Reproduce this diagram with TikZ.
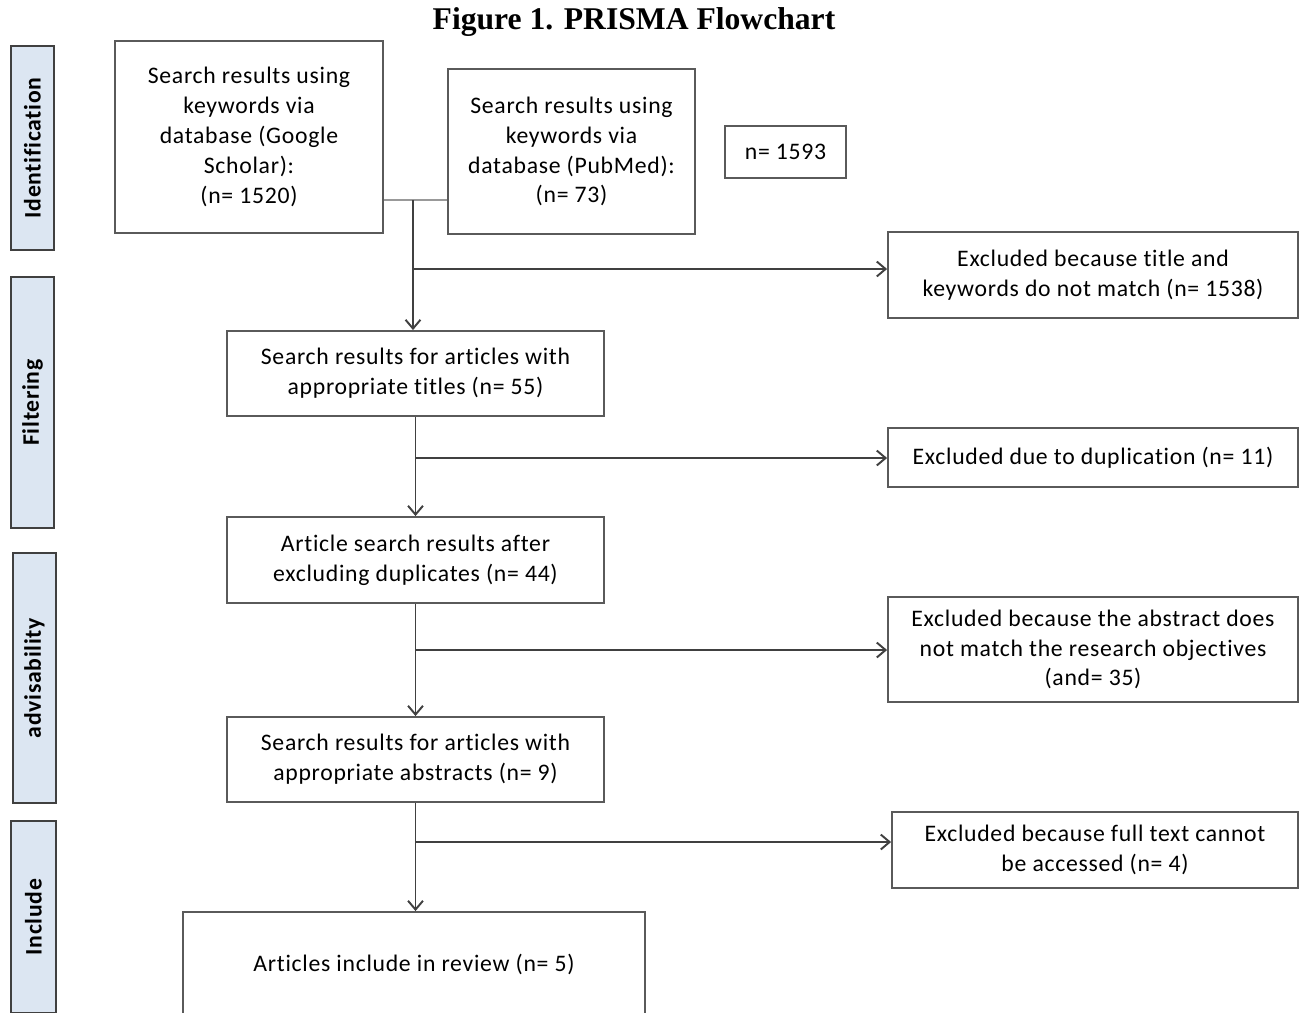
\documentclass[tikz,border=0pt]{standalone}
\usepackage{fontspec}
\setmainfont{Carlito}[LetterSpace=3,Ligatures={NoCommon}]
\newfontfamily\titlefont{Liberation Serif}
\usetikzlibrary{arrows.meta}
\definecolor{sidefill}{HTML}{DCE6F2}
\definecolor{boxline}{HTML}{5A5A5A}
\definecolor{conline}{HTML}{404040}
\begin{document}
\begin{tikzpicture}[x=0.02cm,y=-0.02cm,
  box/.style={draw=boxline,line width=1.1pt,fill=white,align=center,inner sep=0pt,
    font=\fontsize{13.5}{17}\selectfont},
  side/.style={draw=conline,line width=1.1pt,fill=sidefill,inner sep=0pt,
    font=\bfseries\fontsize{13.5}{15}\selectfont},
  conn/.style={draw=conline,line width=1.1pt},
  arr/.style={conn,-{Straight Barb[length=5pt,width=8.5pt,line width=1.1pt]}},
  light/.style={draw=black!40,line width=1.1pt}]
\clip (0,0) rectangle (1304,1012);
\fill[white] (0,0) rectangle (1304,1012);
% title
\node[font=\titlefont\bfseries\fontsize{18}{20}\selectfont] (title) at (634,22) {Figure 1. PRISMA Flowchart};
% side labels
\node[side,minimum width=0.86cm,minimum height=4.08cm] (sid) at (32.5,148) {\rotatebox{90}{Identification}};
\node[side,minimum width=0.86cm,minimum height=5.02cm] (sfi) at (32.5,402.5) {\rotatebox{90}{Filtering}};
\node[side,minimum width=0.86cm,minimum height=5.00cm] (sad) at (34.5,678) {\rotatebox{90}{advisability}};
\node[side,minimum width=0.90cm,minimum height=3.84cm] (sin) at (33.5,917) {\rotatebox{90}{Include}};
% main boxes
\node[box,minimum width=5.36cm,minimum height=3.84cm] (g) at (249,137)
  {Search results using\\keywords via\\database (Google\\Scholar):\\(n= 1520)};
\node[box,minimum width=4.94cm,minimum height=3.30cm] (p) at (571.5,151.5)
  {Search results using\\keywords via\\database (PubMed):\\(n= 73)};
\node[box,minimum width=2.42cm,minimum height=1.04cm] (n) at (785.5,152) {n= 1593};
\node[box,minimum width=8.2cm,minimum height=1.72cm] (e1) at (1093,275)
  {Excluded because title and\\keywords do not match (n= 1538)};
\node[box,minimum width=7.54cm,minimum height=1.70cm] (b2) at (415.5,373.5)
  {Search results for articles with\\appropriate titles (n= 55)};
\node[box,minimum width=8.2cm,minimum height=1.18cm] (e2) at (1093,457.5)
  {Excluded due to duplication (n= 11)};
\node[box,minimum width=7.54cm,minimum height=1.72cm] (b3) at (415.5,560)
  {Article search results after\\excluding duplicates (n= 44)};
\node[box,minimum width=8.2cm,minimum height=2.10cm] (e3) at (1093,649.5)
  {Excluded because the abstract does\\not match the research objectives\\(and= 35)};
\node[box,minimum width=7.54cm,minimum height=1.70cm] (b4) at (415.5,759.5)
  {Search results for articles with\\appropriate abstracts (n= 9)};
\node[box,minimum width=8.12cm,minimum height=1.52cm] (e4) at (1095,850)
  {Excluded because full text cannot\\be accessed (n= 4)};
\node[box,minimum width=9.24cm,minimum height=2.08cm] (b5) at (414,964)
  {Articles include in review (n= 5)};
% connectors
\coordinate (j) at (413,200);
\draw[light] (g.east |- j) -- (p.west |- j);
\draw[arr] (j) -- (j |- b2.north);
\coordinate (k1) at (413,269);
\draw[arr] (k1) -- (k1 -| e1.west);
\draw[arr] (b2.south) -- (b3.north);
\coordinate (k2) at (415.5,458);
\draw[arr] (k2) -- (k2 -| e2.west);
\draw[arr] (b3.south) -- (b4.north);
\coordinate (k3) at (415.5,650);
\draw[arr] (k3) -- (k3 -| e3.west);
\draw[arr] (b4.south) -- (b4.south |- b5.north);
\coordinate (k4) at (415.5,842);
\draw[arr] (k4) -- (k4 -| e4.west);
\end{tikzpicture}
\end{document}
